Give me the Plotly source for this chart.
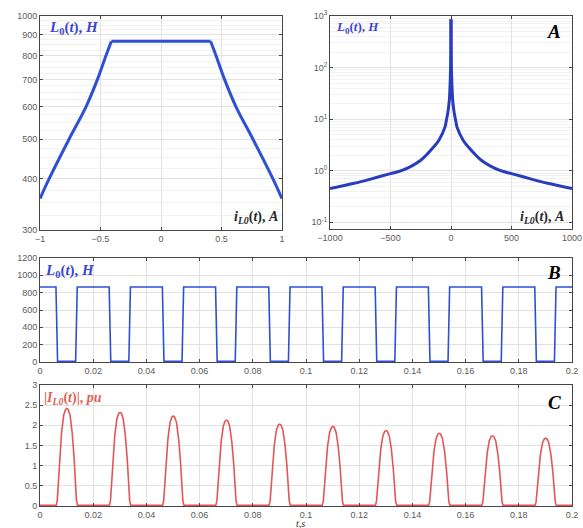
import plotly.graph_objects as go

W, H = 583, 528

# ---------------- data ----------------
# Panel top-left: L0 (H) vs i_L0 (A), |i| <= 1
i_small_left = [-1.0, -0.925, -0.76, -0.62, -0.525, -0.455, -0.41]
L_small_left = [358, 400, 500, 600, 700, 800, 868]
i_plateau = [-0.41, 0.41]
L_plateau = [868, 868]
i_small_right = [0.41, 0.455, 0.525, 0.62, 0.76, 0.925, 1.0]
L_small_right = [868, 800, 700, 600, 500, 400, 358]

# Panel top-right (A): L0 (H) vs i_L0 (A), |i| <= 1000
i_large_left = [-1000, -800, -672, -500, -410, -250, -140, -100, -50, -40, -25, -14, -5, -2.5, -1, -0.41]
L_large_left = [0.45, 0.57, 0.68, 0.88, 1.0, 1.6, 2.95, 3.9, 7.0, 9.0, 14, 23, 71, 143, 358, 868]
i_large_right = [0.41, 1, 2.5, 5, 14, 25, 40, 50, 100, 140, 250, 410, 500, 672, 800, 1000]
L_large_right = [868, 358, 143, 71, 23, 14, 9.0, 7.0, 3.9, 2.95, 1.6, 1.0, 0.88, 0.68, 0.57, 0.45]

# Panel B: L0(t) square-like wave; low intervals centred on these instants (s)
low_centres = [0.01, 0.03, 0.05, 0.07, 0.09, 0.11, 0.13, 0.15, 0.17, 0.19]
B_high = 865
B_low = 8
B_low_half = 0.0034   # half-length of the low plateau (s)
B_edge = 0.0006       # duration of one transition (s)

# Panel C: current pulses |I_L0(t)|, pu
peak_centres = [0.0101, 0.0301, 0.0501, 0.0701, 0.0901, 0.1101, 0.1301, 0.1501, 0.1701, 0.1901]
peak_values = [2.42, 2.32, 2.23, 2.13, 2.03, 1.97, 1.87, 1.80, 1.74, 1.68]
pulse_offsets = [-0.0040, -0.0036, -0.0032, -0.0027, -0.0020, -0.0012, -0.0005, 0.0,
                 0.0005, 0.0012, 0.0020, 0.0027, 0.0032, 0.0036, 0.0040]
pulse_shape = [0.0, 0.06, 0.25, 0.5, 0.75, 0.93, 0.99, 1.0, 0.99, 0.93, 0.75, 0.5, 0.25, 0.06, 0.0]
C_base = 0.02

# ---------------- build traces ----------------
tB, LB = [0.0], [B_high]
for c in low_centres:
    tB += [c - B_low_half - B_edge, c - B_low_half, c + B_low_half, c + B_low_half + B_edge]
    LB += [B_high, B_low, B_low, B_high]
tB.append(0.2); LB.append(B_high)

tC, IC = [0.0], [C_base]
for c, p in zip(peak_centres, peak_values):
    for o, s in zip(pulse_offsets, pulse_shape):
        tC.append(c + o)
        IC.append(max(C_base, p * s))
tC.append(0.2); IC.append(C_base)

BLUE = "rgb(45,80,215)"
DBLUE = "rgb(40,60,190)"
RED = "rgb(228,85,85)"

fig = go.Figure()
for xs, ys, shp in [(i_small_left, L_small_left, "spline"), (i_plateau, L_plateau, "linear"),
                    (i_small_right, L_small_right, "spline")]:
    fig.add_trace(go.Scatter(x=xs, y=ys, mode="lines", line=dict(color=BLUE, width=3, shape=shp),
                             xaxis="x", yaxis="y", showlegend=False))
for xs, ys in [(i_large_left, L_large_left), (i_large_right, L_large_right)]:
    fig.add_trace(go.Scatter(x=xs, y=ys, mode="lines",
                             line=dict(color=DBLUE, width=3, shape="spline", smoothing=0.8),
                             xaxis="x2", yaxis="y2", showlegend=False))
fig.add_trace(go.Scatter(x=tB, y=LB, mode="lines", line=dict(color=BLUE, width=1.6),
                         xaxis="x3", yaxis="y3", showlegend=False))
fig.add_trace(go.Scatter(x=tC, y=IC, mode="lines", line=dict(color=RED, width=1.6),
                         xaxis="x4", yaxis="y4", showlegend=False))


def px(x0, x1):
    return [x0 / W, x1 / W]


def py(y_top, y_bot):
    return [1 - y_bot / H, 1 - y_top / H]


GRID = "rgb(226,226,226)"
MINOR = "rgb(242,242,242)"
LINE = "rgb(70,70,70)"
TICKFONT = dict(family="Liberation Sans, Arial", size=9, color="rgb(90,90,90)")

common = dict(showline=True, linecolor=LINE, linewidth=1, mirror="ticks", ticks="inside",
              ticklen=3, tickcolor=LINE, showgrid=True, gridcolor=GRID, gridwidth=1,
              zeroline=False, tickfont=TICKFONT, automargin=False)

top_left_y = [300, 400, 500, 600, 700, 800, 900, 1000]
top_left_minor = [325, 350, 375, 425, 450, 475, 525, 550, 575, 625, 650, 675, 725, 750, 775,
                  825, 850, 875, 925, 950, 975]
dec_vals = [0.1, 1, 10, 100, 1000]
dec_text = ["10<sup>-1</sup>", "10<sup>0</sup>", "10<sup>1</sup>", "10<sup>2</sup>", "10<sup>3</sup>"]
dec_minor = [m * d for d in [0.1, 1, 10, 100] for m in range(2, 10)]

fig.update_layout(
    width=W, height=H, margin=dict(l=0, r=0, t=0, b=0, autoexpand=False),
    paper_bgcolor="white", plot_bgcolor="white",
    xaxis=dict(domain=px(40, 282), anchor="y", range=[-1, 1], dtick=0.5, **common),
    yaxis=dict(domain=py(16, 230), anchor="x", type="log", range=[2.4771, 3],
               tickmode="array", tickvals=top_left_y, ticktext=[str(v) for v in top_left_y],
               minor=dict(tickmode="array", tickvals=top_left_minor, showgrid=True,
                          gridcolor=MINOR, ticks=""),
               **common),
    xaxis2=dict(domain=px(330, 572), anchor="y2", range=[-1000, 1000], dtick=500, **common),
    yaxis2=dict(domain=py(16, 229), anchor="x2", type="log", range=[-1.13, 3],
                tickmode="array", tickvals=dec_vals, ticktext=dec_text,
                minor=dict(tickmode="array", tickvals=dec_minor, showgrid=True,
                           gridcolor=MINOR, ticks=""),
                **common),
    xaxis3=dict(domain=px(40, 572), anchor="y3", range=[0, 0.2], dtick=0.02, **common),
    yaxis3=dict(domain=py(258, 362), anchor="x3", range=[0, 1200], dtick=200, **common),
    xaxis4=dict(domain=px(40, 572), anchor="y4", range=[0, 0.2], dtick=0.02, **common),
    yaxis4=dict(domain=py(385, 506), anchor="x4", range=[0, 3], dtick=0.5, **common),
)

SERIF = "Liberation Serif, Times New Roman, serif"


def label(text, x, y, size, color, xanchor="left"):
    fig.add_annotation(text=text, x=x / W, y=1 - y / H, xref="paper", yref="paper",
                       xanchor=xanchor, yanchor="middle", showarrow=False,
                       font=dict(family=SERIF, size=size, color=color))


L0 = "<b><i>L</i><sub>0</sub>(<i>t</i>), <i>H</i></b>"
iL0 = "<b><i>i</i><sub><i>L0</i></sub>(<i>t</i>), <i>A</i></b>"
LBL_BLUE = "rgb(60,70,205)"
DARK = "rgb(40,40,40)"

label(L0, 47, 28, 15, LBL_BLUE)
label(iL0, 280, 218, 14, DARK, "right")
label(L0, 334, 28, 13, LBL_BLUE)
label("<b><i>A</i></b>", 563, 31, 19, "black", "right")
label(iL0, 566, 217, 14, DARK, "right")
label(L0, 43, 271, 15, LBL_BLUE)
label("<b><i>B</i></b>", 563, 272, 19, "black", "right")
label("<b>|<i>I</i><sub><i>L0</i></sub>(<i>t</i>)|, <i>pu</i></b>", 42, 398, 14, "rgb(225,95,85)")
label("<b><i>C</i></b>", 563, 402, 19, "black", "right")
label("<i>t,s</i>", 300, 523, 10, DARK, "center")

fig.write_html("out.html", config={"displayModeBar": False},
               post_script="document.body.style.margin='0';document.body.style.overflow='hidden';")
